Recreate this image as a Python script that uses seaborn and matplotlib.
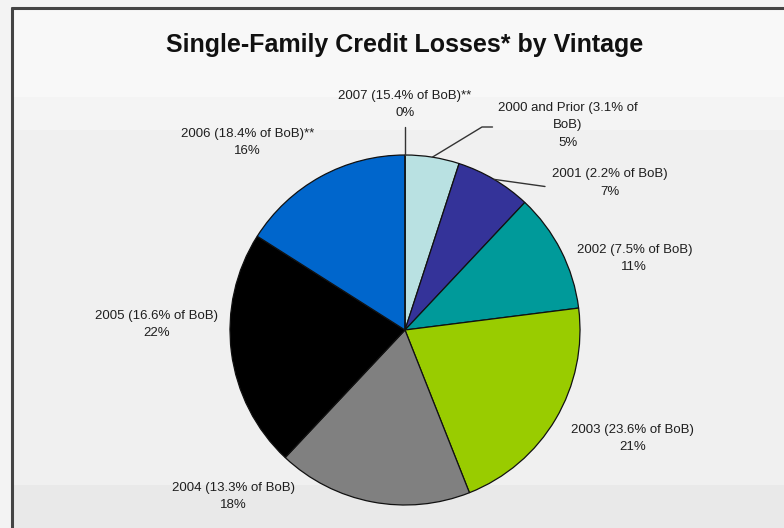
import numpy as np
import seaborn as sns
import matplotlib.pyplot as plt
from matplotlib.patches import Rectangle

# datos del grafico
vintages = ["2000 and Prior (3.1% of\nBoB)", "2001 (2.2% of BoB)", "2002 (7.5% of BoB)",
            "2003 (23.6% of BoB)", "2004 (13.3% of BoB)", "2005 (16.6% of BoB)",
            "2006 (18.4% of BoB)**", "2007 (15.4% of BoB)**"]
losses = [5, 7, 11, 21, 18, 22, 16, 0]
colores = ["#b9e1e2", "#343399", "#009a9a", "#99cc00", "#808080", "#000000", "#0066cc", "#ffffff"]

# posiciones de etiquetas (coordenadas del eje, radio = 1)
label_pos = [(0.93, 1.17), (1.17, 0.84), (1.31, 0.41), (1.30, -0.62),
             (-0.98, -0.95), (-1.42, 0.03), (-0.90, 1.07), (0.0, 1.29)]

sns.set_theme(style="white")
plt.rcParams['font.family'] = ['Liberation Sans', 'DejaVu Sans']

fig = plt.figure(figsize=(7.84, 5.28), dpi=100)
fig.patch.set_facecolor("#f3f3f3")

# bandas de fondo (estilo captura)
fig.patches.append(Rectangle((12/784, 0), 1, 1 - 8/528, transform=fig.transFigure,
                             facecolor="#f8f8f8", edgecolor="none", zorder=-3))
fig.patches.append(Rectangle((12/784, 0), 1, 1 - 97/528, transform=fig.transFigure,
                             facecolor="#f4f4f4", edgecolor="none", zorder=-2))
fig.patches.append(Rectangle((12/784, 0), 1, 1 - 130/528, transform=fig.transFigure,
                             facecolor="#f0f0f0", edgecolor="none", zorder=-2))
fig.patches.append(Rectangle((12/784, 0), 1, 1 - 485/528, transform=fig.transFigure,
                             facecolor="#e9e9e9", edgecolor="none", zorder=-1))
fig.add_artist(plt.Line2D([12/784, 12/784], [0, 1 - 8/528], color="#444444", lw=2.2,
                          transform=fig.transFigure))
fig.add_artist(plt.Line2D([12/784, 1], [1 - 8/528, 1 - 8/528], color="#444444", lw=2.2,
                          transform=fig.transFigure))

fig.text(0.5156, 1 - 45/528, "Single-Family Credit Losses* by Vintage", ha="center", va="center",
         fontsize=18, fontweight="bold", color="#111111")

ax = fig.add_axes([(405 - 175)/784, (528 - 505)/528, 350/784, 350/528])
wedges, _ = ax.pie(losses, colors=colores, startangle=90, counterclock=False,
                   wedgeprops=dict(edgecolor="#111111", linewidth=0.9))
ax.set_xlim(-1, 1)
ax.set_ylim(-1, 1)
ax.set_aspect("equal")
ax.axis("off")

for w, nombre, val, (lx, ly) in zip(wedges, vintages, losses, label_pos):
    ax.text(lx, ly, f"{nombre}\n{val}%", ha="center", va="center", fontsize=9.5,
            color="#1e1e1e", linespacing=1.6, clip_on=False)

# lineas guia
def borde(i):
    ang = np.deg2rad((wedges[i].theta1 + wedges[i].theta2) / 2)
    return np.cos(ang), np.sin(ang)

x0, y0 = borde(7)
ax.plot([x0, x0], [y0, 1.16], color="#333333", lw=1, clip_on=False)
x0, y0 = borde(0)
ax.plot([x0, 0.44, 0.50], [y0, 1.16, 1.16], color="#333333", lw=1, clip_on=False)
x0, y0 = borde(1)
ax.plot([x0, 0.80], [y0, 0.82], color="#333333", lw=1, clip_on=False)

plt.savefig("out.png", dpi=100)
